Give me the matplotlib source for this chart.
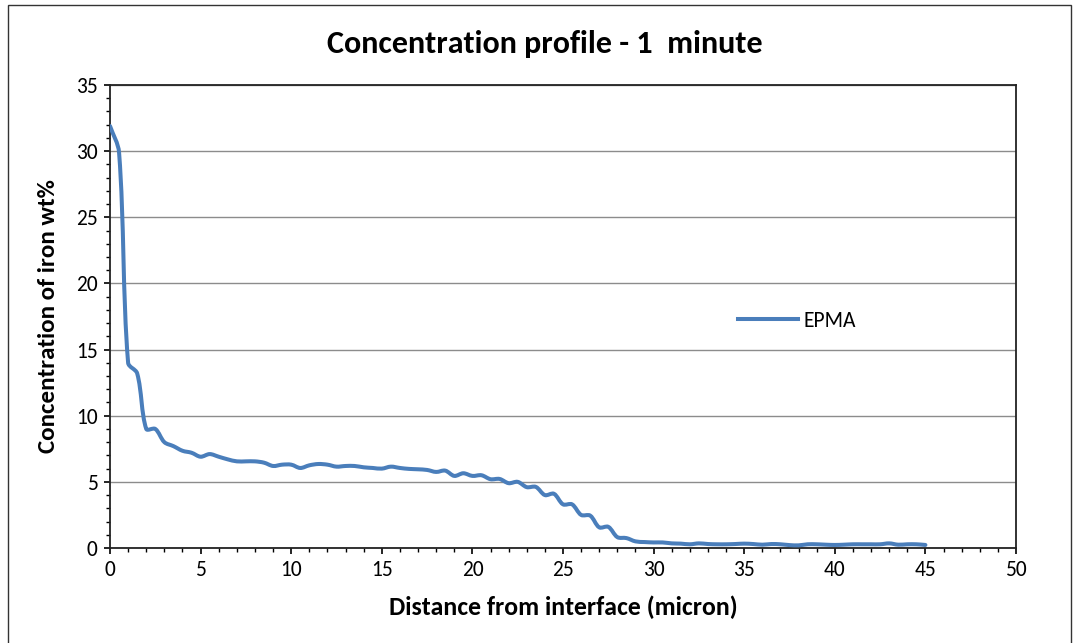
import numpy as np
import matplotlib
matplotlib.use("Agg")
import matplotlib.pyplot as plt
from matplotlib.path import Path
from matplotlib.patches import PathPatch, Rectangle
from matplotlib.lines import Line2D
from matplotlib.ticker import MultipleLocator

plt.rcParams['font.family'] = ['Carlito', 'Lato', 'DejaVu Sans']

title = "Concentration profile - 1  minute"
xlabel = "Distance from interface (micron)"
ylabel = "Concentration of iron wt%"
series_name = "EPMA"

distance = [i * 0.5 for i in range(91)]
iron = [31.9, 29.9, 14.0, 13.2, 9.0, 9.0, 8.0, 7.7, 7.35, 7.2,
        6.9, 7.1, 6.9, 6.7, 6.55, 6.55, 6.55, 6.45, 6.2, 6.3,
        6.3, 6.05, 6.25, 6.35, 6.3, 6.15, 6.2, 6.2, 6.1, 6.05,
        6.0, 6.15, 6.05, 5.98, 5.95, 5.9, 5.75, 5.85, 5.45, 5.65,
        5.45, 5.5, 5.2, 5.22, 4.9, 5.0, 4.6, 4.62, 4.0, 4.1,
        3.3, 3.3, 2.5, 2.45, 1.56, 1.6, 0.82, 0.75, 0.5, 0.45,
        0.42, 0.42, 0.35, 0.33, 0.28, 0.35, 0.3, 0.28, 0.28, 0.3,
        0.33, 0.3, 0.25, 0.3, 0.28, 0.22, 0.2, 0.28, 0.28, 0.25,
        0.23, 0.25, 0.28, 0.28, 0.28, 0.28, 0.35, 0.25, 0.28, 0.28,
        0.23]

line_color = "#4A7EBB"

fig = plt.figure(figsize=(10.74, 6.43), dpi=100)
ax = fig.add_axes([110/1074, 1-548/643, 906/1074, 463/643])
ax.set_xlim(0, 50)
ax.set_ylim(0, 35)

# smoothed (Excel-like) bezier path through the data points, built in display space
pts = ax.transData.transform(np.column_stack([distance, iron]))
n = len(pts)
verts = [pts[0]]
codes = [Path.MOVETO]
t = 1.0 / 3.0
for i in range(n - 1):
    p0 = pts[max(i-1, 0)]
    p1 = pts[i]
    p2 = pts[i+1]
    p3 = pts[min(i+2, n-1)]
    d01 = np.hypot(*(p1 - p0)) + 1e-9
    d12 = np.hypot(*(p2 - p1)) + 1e-9
    d23 = np.hypot(*(p3 - p2)) + 1e-9
    c1 = p1 + t * (p2 - p0) * d12 / (d01 + d12)
    c2 = p2 - t * (p3 - p1) * d12 / (d12 + d23)
    verts += [c1, c2, p2]
    codes += [Path.CURVE4] * 3
verts_data = ax.transData.inverted().transform(np.array(verts))
patch = PathPatch(Path(verts_data, codes), facecolor='none', edgecolor=line_color,
                  lw=2.9, capstyle='round', joinstyle='round', zorder=3)
ax.add_patch(patch)

ax.xaxis.set_major_locator(MultipleLocator(5))
ax.xaxis.set_minor_locator(MultipleLocator(1))
ax.yaxis.set_major_locator(MultipleLocator(5))
ax.yaxis.set_minor_locator(MultipleLocator(1))
ax.tick_params(which='major', direction='out', length=4, width=1.2, color='black',
               labelsize=15.5, pad=5)
ax.tick_params(which='minor', direction='out', length=3, width=1.0, color='black')
ax.grid(axis='y', which='major', color='#8c8c8c', lw=1.0)
ax.set_axisbelow(True)
for s in ax.spines.values():
    s.set_linewidth(1.3)
    s.set_color('#222222')

fig.text(545/1074, 1-44/643, title, fontsize=23, fontweight='bold',
         ha='center', va='center')
ax.set_xlabel(xlabel, fontsize=18.5, fontweight='bold', labelpad=11)
ax.set_ylabel(ylabel, fontsize=18, fontweight='bold', labelpad=12)

handle = Line2D([], [], color=line_color, lw=2.9)
ax.legend([handle], [series_name], loc='center left',
          bbox_to_anchor=((738-110)/906, (548-321)/463), frameon=False,
          borderpad=0, borderaxespad=0, handlelength=2.8, handletextpad=0.25,
          fontsize=15.5)

fig.patches.append(Rectangle((8/1074, -0.01), (1071-8)/1074, 1-5/643+0.01,
                             transform=fig.transFigure, fill=False,
                             edgecolor='#333333', lw=1.0))

fig.savefig("out.png", dpi=100)
